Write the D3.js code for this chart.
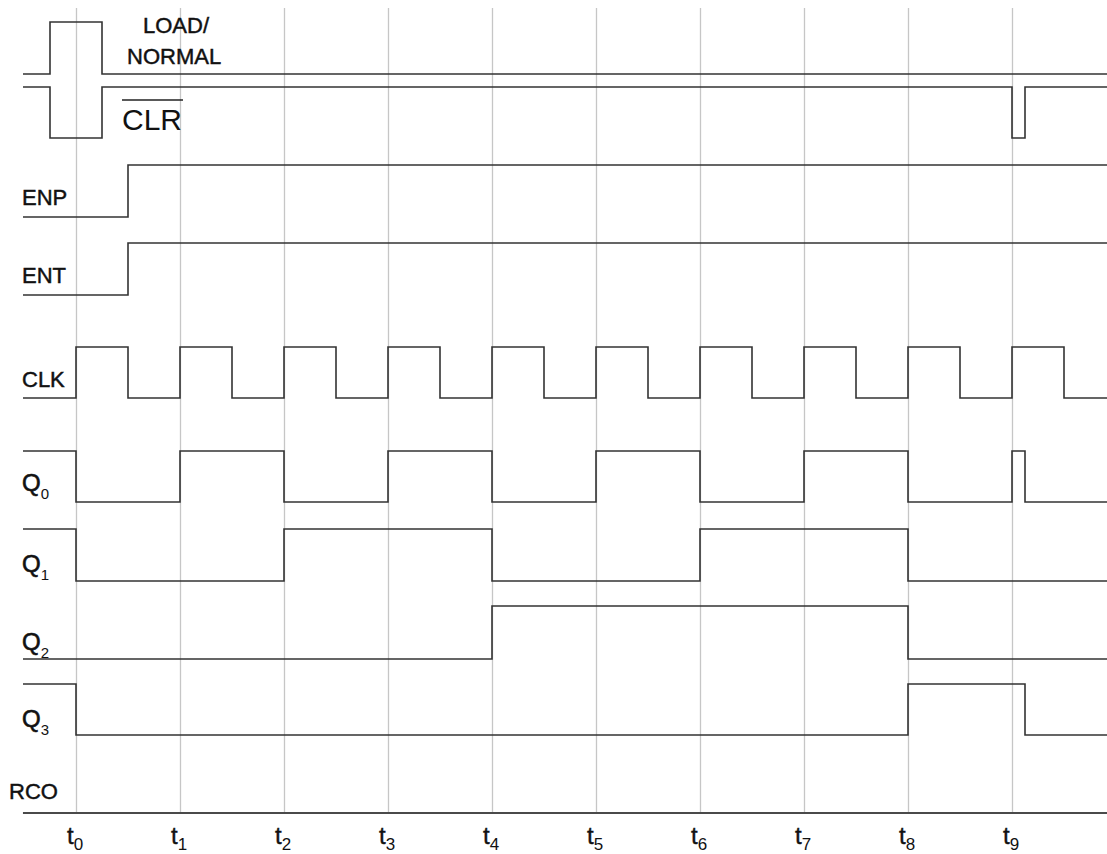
<!DOCTYPE html>
<html>
<head>
<meta charset="utf-8">
<script src="https://cdn.jsdelivr.net/npm/d3@7"></script>
<style>
  html, body { margin: 0; padding: 0; background: #fff; }
  svg { display: block; font-family: "Liberation Sans", Arial, sans-serif; }
</style>
</head>
<body>
<svg id="chart" width="1107" height="854"></svg>
<script>
// ---------- DATA ----------
const tickIndex = [0, 1, 2, 3, 4, 5, 6, 7, 8, 9];
const tickSubs = ["0", "1", "2", "3", "4", "5", "6", "7", "8", "9"];
const signalNames = ["LOAD/NORMAL", "CLR", "ENP", "ENT", "CLK", "Q0", "Q1", "Q2", "Q3", "RCO"];
const timeStart = -0.51;
const timeEnd = 9.92;
// waveforms: [time (in clock periods), logic level]
const loadNormal = [[-0.51, 0], [-0.25, 1], [0.25, 0]];
const clrBar = [[-0.51, 1], [-0.25, 0], [0.25, 1], [9, 0], [9.125, 1]];
const enp = [[-0.51, 0], [0.5, 1]];
const ent = [[-0.51, 0], [0.5, 1]];
const clk = [[-0.51, 0], [0, 1], [0.5, 0], [1, 1], [1.5, 0], [2, 1], [2.5, 0], [3, 1], [3.5, 0],
             [4, 1], [4.5, 0], [5, 1], [5.5, 0], [6, 1], [6.5, 0], [7, 1], [7.5, 0], [8, 1], [8.5, 0],
             [9, 1], [9.5, 0]];
const q0 = [[-0.51, 1], [0, 0], [1, 1], [2, 0], [3, 1], [4, 0], [5, 1], [6, 0], [7, 1], [8, 0], [9, 1], [9.125, 0]];
const q1 = [[-0.51, 1], [0, 0], [2, 1], [4, 0], [6, 1], [8, 0]];
const q2 = [[-0.51, 0], [4, 1], [8, 0]];
const q3 = [[-0.51, 1], [0, 0], [8, 1], [9.125, 0]];
const rco = [[-0.51, 0]];
const waves = [loadNormal, clrBar, enp, ent, clk, q0, q1, q2, q3, rco];

// ---------- LAYOUT ----------
const lanes = [[74, 22], [138, 87], [217, 165], [295, 243], [398, 347],
               [502, 451], [581, 529], [659, 606], [735, 684], [813, 813]];
const gridTop = 8, axisY = 813;

const svg = d3.select("#chart");
const x = d3.scaleLinear().domain([0, 9]).range([76, 1012]);

// grid lines via axis
const grid = svg.append("g")
  .attr("transform", `translate(0,${axisY})`)
  .call(d3.axisBottom(x).tickValues(tickIndex).tickSize(-(axisY - gridTop)).tickFormat(""));
grid.select(".domain").remove();
grid.selectAll(".tick line").attr("stroke", "#c6c6c6").attr("stroke-width", 1.3);

// waveforms
waves.forEach((w, i) => {
  const y = d3.scaleLinear().domain([0, 1]).range(lanes[i]);
  const pts = w.concat([[timeEnd, w[w.length - 1][1]]]);
  const line = d3.line().curve(d3.curveStepAfter).x(d => x(d[0])).y(d => y(d[1]));
  svg.append("path").attr("d", line(pts))
    .attr("fill", "none")
    .attr("stroke", i === 9 ? "#4a4a4a" : "#333")
    .attr("stroke-width", i === 9 ? 2 : 1.6);
});

// labels
const txt = (s, xx, yy, size, heavy) => svg.append("text").attr("x", xx).attr("y", yy)
  .attr("font-size", size).attr("fill", "#111")
  .attr("stroke", heavy ? "#111" : "none").attr("stroke-width", heavy ? 0.45 : 0)
  .text(s);

txt("LOAD/", 143, 33, 22, true);
txt("NORMAL", 127, 64, 22, true);
txt("CLR", 122, 130, 30, false);
svg.append("line").attr("x1", 122).attr("x2", 183).attr("y1", 100).attr("y2", 100)
  .attr("stroke", "#222").attr("stroke-width", 1.3);
txt("ENP", 22, 205, 22, true);
txt("ENT", 22, 283, 22, true);
txt("CLK", 22, 387, 22, true);
txt("RCO", 9, 799, 22, true);

const qBase = [491, 572, 650, 727];
const qSubs = ["0", "1", "2", "3"];
qBase.forEach((b, i) => {
  const t = svg.append("text").attr("x", 22).attr("y", b).attr("font-size", 24).attr("fill", "#111");
  t.append("tspan").attr("stroke", "#111").attr("stroke-width", 0.6).text("Q");
  t.append("tspan").attr("dy", 8).attr("font-size", 15).text(qSubs[i]);
});

// tick labels t_n
tickIndex.forEach((k, i) => {
  const t = svg.append("text").attr("x", x(k) - 9).attr("y", 844).attr("font-size", 24).attr("fill", "#111");
  t.append("tspan").attr("stroke", "#111").attr("stroke-width", 0.4).text("t");
  t.append("tspan").attr("dy", 6).attr("font-size", 17).text(tickSubs[i]);
});
</script>
</body>
</html>
